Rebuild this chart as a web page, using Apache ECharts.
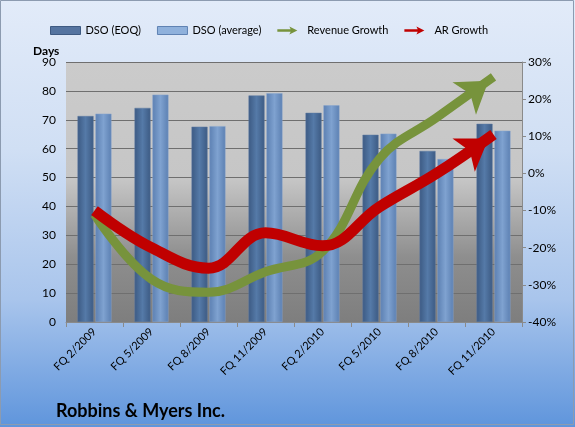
<!DOCTYPE html>
<html>
<head>
<meta charset="utf-8">
<script src="https://cdn.jsdelivr.net/npm/echarts@6/dist/echarts.min.js"></script>
<style>
	html, body { margin: 0; padding: 0; }
	#chart { width: 575px; height: 427px; }
</style>
</head>
<body>
<div id="chart"></div>
<script>
// data
var quarters = ['FQ 2/2009', 'FQ 5/2009', 'FQ 8/2009', 'FQ 11/2009', 'FQ 2/2010', 'FQ 5/2010', 'FQ 8/2010', 'FQ 11/2010'];
var dsoEoq = [71.3, 74.1, 67.6, 78.4, 72.4, 64.8, 59.2, 68.6];
var dsoAvg = [72.1, 78.7, 67.8, 79.2, 75.0, 65.2, 56.4, 66.2];
var revenueGrowth = [-11, -28.5, -32, -26.5, -21, 4, 15, 26];
var arGrowth = [-10, -20, -25.5, -16, -19.5, -9, 0, 10.5];

var FONT = 'Lato';

// arrow head on last point of a line
function withArrow(values, rot, offset) {
	var out = [];
	for (var i = 0; i < values.length; i++) {
		if (i == values.length - 1) {
			out.push({
				value: values[i],
				symbol: 'arrow',
				symbolSize: [30, 30],
				symbolRotate: rot,
				symbolOffset: offset
			});
		} else {
			out.push({ value: values[i], symbol: 'none' });
		}
	}
	return out;
}

function barColor(c1, c2) {
	return {
		type: 'linear', x: 0, y: 0, x2: 1, y2: 0,
		colorStops: [
			{ offset: 0, color: c1 },
			{ offset: 0.5, color: c2 },
			{ offset: 1, color: c1 }
		]
	};
}

var myChart = echarts.init(document.getElementById('chart'));
var option = {
	animation: false,
	backgroundColor: {
		type: 'linear', x: 0, y: 0, x2: 0, y2: 1,
		colorStops: [
			{ offset: 0, color: '#e2ebf9' },
			{ offset: 0.35, color: '#d0dff4' },
			{ offset: 0.7, color: '#a9c5ec' },
			{ offset: 1, color: '#5f95dc' }
		]
	},
	textStyle: { fontFamily: FONT },
	graphic: [{
		type: 'rect',
		shape: { x: 0.5, y: 0.5, width: 573, height: 424 },
		style: { fill: 'none', stroke: '#8c9bb0', lineWidth: 1 },
		z: 100
	}],
	title: [{
		text: 'Days',
		left: 28, top: 40,
		textStyle: { fontFamily: FONT, fontSize: 12, fontWeight: 'bold', color: '#000' }
	}, {
		text: 'Robbins & Myers Inc.',
		left: 51, top: 397,
		textStyle: { fontFamily: FONT, fontSize: 18, fontWeight: 'bold', color: '#000' }
	}],
	legend: {
		left: 45, top: 20,
		itemGap: 16,
		itemWidth: 30,
		itemHeight: 8,
		textStyle: { fontFamily: FONT, fontSize: 11, color: '#000' },
		data: [
			{ name: 'DSO (EOQ)', icon: 'rect', itemStyle: { color: '#5574a0', borderColor: '#3e5a82', borderWidth: 1 } },
			{ name: 'DSO (average)', icon: 'rect', itemStyle: { color: '#8fb1dc', borderColor: '#5f82b3', borderWidth: 1 } },
			{ name: 'Revenue Growth', icon: 'path://M0,4 L20,4 L18,0 L30,6 L18,12 L20,8 L0,8 Z', itemStyle: { color: '#77933c' } },
			{ name: 'AR Growth', icon: 'path://M0,4 L20,4 L18,0 L30,6 L18,12 L20,8 L0,8 Z', itemStyle: { color: '#c00000' } }
		]
	},
	grid: {
		left: 66, right: 53, top: 62, bottom: 105,
		show: true,
		borderWidth: 0,
		backgroundColor: {
			type: 'linear', x: 0, y: 0, x2: 0, y2: 1,
			colorStops: [
				{ offset: 0, color: '#cbcbcb' },
				{ offset: 0.45, color: '#c6c6c6' },
				{ offset: 0.75, color: '#8e8e8e' },
				{ offset: 1, color: '#7e7e7e' }
			]
		}
	},
	xAxis: {
		type: 'category',
		data: quarters,
		boundaryGap: true,
		axisLine: { lineStyle: { color: '#8a8a8a' } },
		axisTick: { show: true, length: 5, lineStyle: { color: '#8a8a8a' } },
		axisLabel: { rotate: 45, fontSize: 11, color: '#000', margin: 8 }
	},
	yAxis: [{
		type: 'value',
		min: 0, max: 90, interval: 10,
		axisLine: { show: false },
		axisTick: { show: false },
		axisLabel: { fontSize: 12, color: '#000', margin: 10 },
		splitLine: { lineStyle: { color: '#6f6f6f', width: 1 } }
	}, {
		type: 'value',
		min: -40, max: 30, interval: 10,
		position: 'right',
		axisLine: { show: true, lineStyle: { color: '#8a8a8a' } },
		axisTick: { show: true, length: 4, lineStyle: { color: '#8a8a8a' } },
		axisLabel: { fontSize: 12, color: '#000', margin: 6, formatter: '{value}%' },
		splitLine: { show: false }
	}],
	series: [{
		name: 'DSO (EOQ)',
		type: 'bar',
		data: dsoEoq,
		barWidth: 16,
		barGap: '12%',
		itemStyle: { color: barColor('#3c5a83', '#557aa8'), borderColor: '#5d7aa3', borderWidth: 0.5 }
	}, {
		name: 'DSO (average)',
		type: 'bar',
		data: dsoAvg,
		barWidth: 16,
		itemStyle: { color: barColor('#5c80b2', '#7fa2d0'), borderColor: '#86a5cf', borderWidth: 0.5 }
	}, {
		name: 'Revenue Growth',
		type: 'line',
		yAxisIndex: 1,
		smooth: 0.4,
		showSymbol: true,
		data: withArrow(revenueGrowth, -54, [-5, 4]),
		lineStyle: { color: '#77933c', width: 9, cap: 'butt' },
		itemStyle: { color: '#77933c' },
		z: 3
	}, {
		name: 'AR Growth',
		type: 'line',
		yAxisIndex: 1,
		smooth: 0.4,
		showSymbol: true,
		data: withArrow(arGrowth, -56, [-5, 4]),
		lineStyle: { color: '#c00000', width: 11, cap: 'butt' },
		itemStyle: { color: '#c00000' },
		z: 4
	}]
};
myChart.setOption(option);
</script>
</body>
</html>
